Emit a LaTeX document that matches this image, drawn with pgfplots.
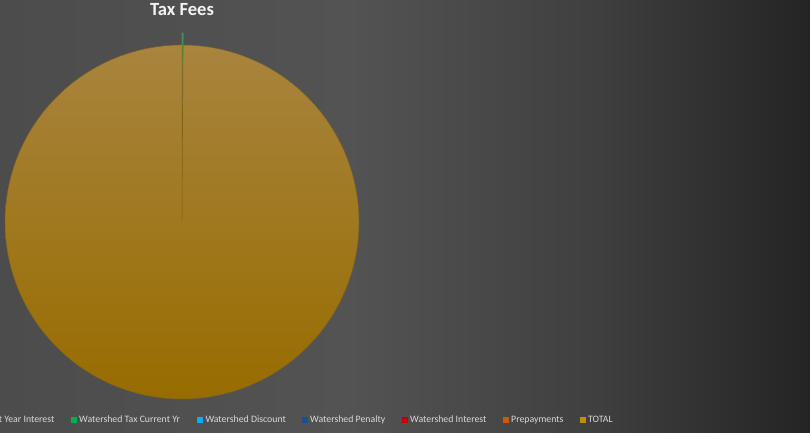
\documentclass[border=0pt]{standalone}
\usepackage{pgfplots}
\pgfplotsset{compat=1.18}
\usepackage{pgfplotstable}
\usepackage{fontspec}
\setmainfont{Carlito}

\definecolor{bg0}{RGB}{76,76,76}
\definecolor{bg1}{RGB}{83,83,83}
\definecolor{bg2}{RGB}{63,63,63}
\definecolor{bg3}{RGB}{36,36,36}
\pgfdeclarehorizontalshading{bgshade}{100bp}{color(0bp)=(bg0); color(25bp)=(bg0); color(46.6bp)=(bg1); color(62bp)=(bg2); color(75bp)=(bg3); color(100bp)=(bg3)}

\definecolor{cLast}{RGB}{112,48,160}
\definecolor{cCur}{RGB}{0,176,80}
\definecolor{cCurLine}{RGB}{60,145,80}
\definecolor{cDisc}{RGB}{0,176,240}
\definecolor{cPen}{RGB}{18,82,156}
\definecolor{cInt}{RGB}{192,0,0}
\definecolor{cPre}{RGB}{197,90,17}
\definecolor{cTot}{RGB}{191,144,0}
\definecolor{totTop}{RGB}{168,132,62}
\definecolor{totMid}{RGB}{163,120,8}
\definecolor{totBot}{RGB}{152,108,0}
\definecolor{totEdge}{RGB}{125,98,35}
\definecolor{legtext}{RGB}{217,217,217}
\definecolor{titletext}{RGB}{242,242,242}

% pie values (Excel order, clockwise from 12 o'clock)
\pgfplotstableread{
cat value
LastYrInterest 0
CurrentYr 0.1
Discount 0
Penalty 0
Interest 0
Prepayments 0
Total 99.9
}\piedata

\def\pieSum{0}
\pgfplotstableforeachcolumnelement{value}\of\piedata\as\cell{%
  \pgfmathsetmacro\tmp{\pieSum+\cell}\xdef\pieSum{\tmp}}
\def\pieCum{0}
\pgfplotstableforeachcolumnelement{value}\of\piedata\as\cell{%
  \pgfmathsetmacro\aS{90-(\pieCum/\pieSum)*360}%
  \pgfmathsetmacro\tmp{\pieCum+\cell}\xdef\pieCum{\tmp}%
  \pgfmathsetmacro\aE{90-(\pieCum/\pieSum)*360}%
  \expandafter\xdef\csname pieS\pgfplotstablerow\endcsname{\aS}%
  \expandafter\xdef\csname pieE\pgfplotstablerow\endcsname{\aE}}

\def\cx{182}\def\cy{211}\def\R{177}\def\expl{12}
\expandafter\let\expandafter\gS\csname pieS1\endcsname
\expandafter\let\expandafter\gE\csname pieE1\endcsname
\expandafter\let\expandafter\tS\csname pieS6\endcsname
\expandafter\let\expandafter\tE\csname pieE6\endcsname
\pgfmathsetmacro\gM{(\gS+\gE)/2}
\pgfmathsetmacro\gcx{\cx+\expl*cos(\gM)}
\pgfmathsetmacro\gcy{\cy+\expl*sin(\gM)}

\begin{document}
\begin{tikzpicture}[x=1pt,y=1pt]
\useasboundingbox (0,0) rectangle (810,433);
\clip (0,0) rectangle (810,433);
\shade[shading=bgshade] (0,0) rectangle (810,433);
\begin{axis}[at={(0,0)}, anchor=south west, x=1pt, y=1pt,
  xmin=0, xmax=810, ymin=0, ymax=433, hide axis, clip=false]
  % exploded small slice: Watershed Tax Current Yr
  \addplot[draw=cCurLine, fill=cCur, line width=0.8pt, domain=\gE:\gS, samples=3]
    ({\gcx+\R*cos(x)},{\gcy+\R*sin(x)}) -- (axis cs:\gcx,\gcy) -- cycle;
  % TOTAL slice
  \addplot[draw=totEdge, line width=0.45pt, top color=totTop, middle color=totMid, bottom color=totBot, domain=\tE:\tS, samples=361]
    ({\cx+\R*cos(x)},{\cy+\R*sin(x)}) -- (axis cs:\cx,\cy) -- cycle;
\end{axis}
\node[font=\bfseries\fontsize{18.6}{20}\selectfont, text=titletext, anchor=base] at (182,417) {Tax Fees};
\begin{scope}[font=\fontsize{9.8}{11}\selectfont]
  \node[anchor=base east, text=legtext, inner sep=0] (l0) at (54.5,10) {Watershed Tax Last Year Interest};
  \fill[cLast] ([xshift=-8pt]l0.base west) ++(0,-0.5) rectangle ++(-6,6);
  \foreach \mx/\col/\lab in {71/cCur/Watershed Tax Current Yr, 197.3/cDisc/Watershed Discount, 302/cPen/Watershed Penalty, 402/cInt/Watershed Interest, 503/cPre/Prepayments, 580/cTot/TOTAL}{
    \fill[\col] (\mx,9.6) rectangle ++(6,6);
    \node[anchor=base west, text=legtext, inner sep=0] at (\mx+8,10) {\lab};
  }
\end{scope}
\end{tikzpicture}
\end{document}
